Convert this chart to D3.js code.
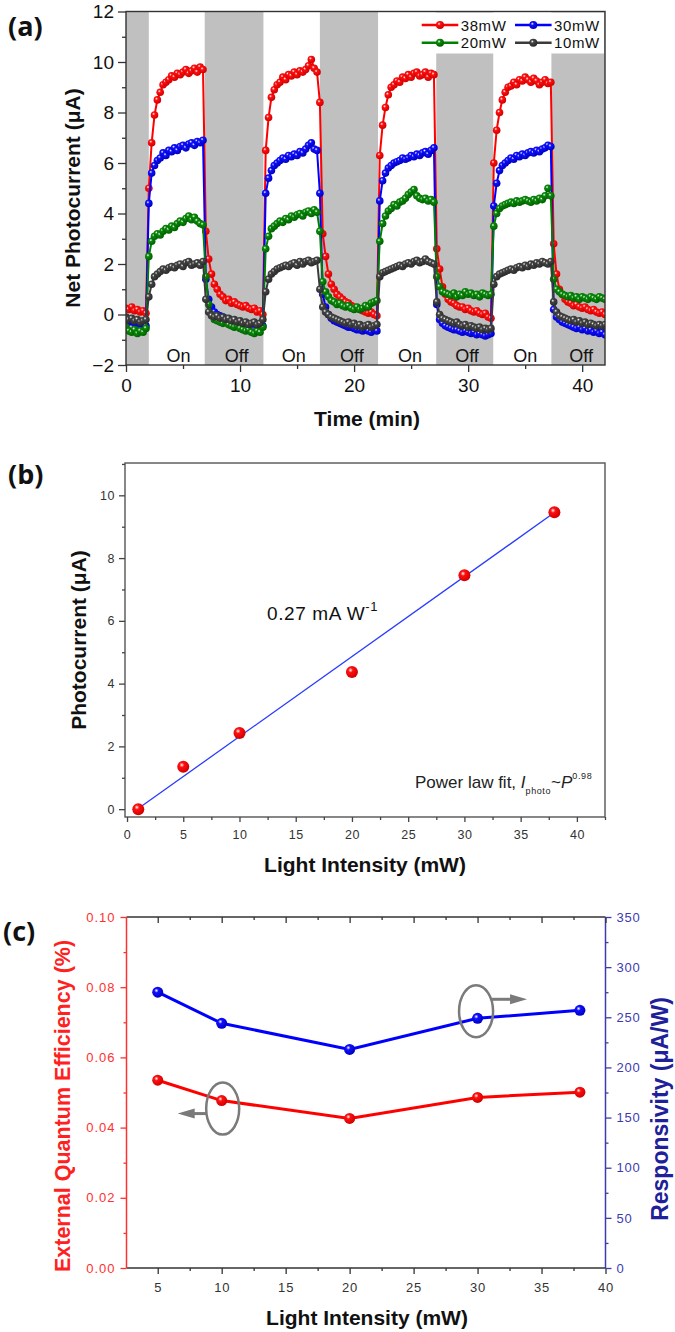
<!DOCTYPE html>
<html><head><meta charset="utf-8">
<script src="https://cdn.jsdelivr.net/npm/d3@7"></script>
<style>
body{margin:0;background:#fff;}
svg text{font-family:"Liberation Sans",Arial,Helvetica,sans-serif;}
</style>
</head><body>
<svg id="chart" width="675" height="1332"></svg>
<script>
// ---------------- DATA ----------------
// (a) transient photocurrent, sampled every 0.25 min from 0 to 42 min
const timeStep = 0.25;
const seriesNames = ["38mW", "30mW", "20mW", "10mW"];
const seriesColors = ["#ff0000", "#0000ff", "#008000", "#3a3a3a"];
const current38 = [
0.25,0.2,0.3,0.15,0.2,0.1,0.15,0.05,
5.0,
6.8,7.9,8.5,8.8,9.1,9.2,9.3,9.45,9.4,9.55,9.5,9.6,9.7,9.55,9.65,9.75,9.6,9.8,9.7,
3.3,
2.2,1.6,1.2,1.0,0.8,0.7,0.55,0.6,0.45,0.5,0.4,0.35,0.3,0.35,0.25,0.2,0.25,0.1,0.15,
0.0,
6.5,7.8,8.6,8.9,9.1,9.2,9.4,9.3,9.5,9.45,9.6,9.5,9.65,9.6,9.7,9.85,10.1,9.75,9.6,
8.4,
3.2,2.3,1.6,1.2,1.0,0.8,0.7,0.6,0.5,0.45,0.35,0.3,0.25,0.2,0.15,0.1,0.05,0.1,0.0,-0.05,
6.3,7.5,8.2,8.7,9.0,9.1,9.25,9.2,9.4,9.35,9.5,9.4,9.55,9.6,9.45,9.5,9.6,9.4,9.55,9.5,
2.6,1.8,1.1,0.8,0.6,0.5,0.45,0.35,0.3,0.3,0.2,0.25,0.15,0.1,0.15,0.05,0.0,0.05,-0.1,-0.15,
6.0,7.3,8.0,8.5,8.8,9.0,9.05,9.2,9.1,9.3,9.25,9.4,9.3,9.2,9.35,9.25,9.1,9.2,9.3,9.15,9.2,
2.8,1.6,1.0,0.8,0.6,0.5,0.45,0.35,0.4,0.3,0.25,0.3,0.2,0.15,0.2,0.1,0.05,0.1,0.0
];
const current30 = [
-0.2,-0.3,-0.25,-0.35,-0.3,-0.4,-0.35,-0.45,
4.4,
5.6,5.9,6.1,6.2,6.4,6.3,6.5,6.45,6.6,6.5,6.65,6.7,6.6,6.75,6.8,6.7,6.85,6.8,6.9,
1.4,
0.6,0.3,0.1,0.0,-0.05,-0.1,-0.15,-0.2,-0.25,-0.3,-0.3,-0.4,-0.45,-0.5,-0.55,-0.5,-0.6,-0.55,-0.5,
-0.45,
4.8,5.4,5.7,5.9,6.0,6.1,6.2,6.15,6.3,6.25,6.35,6.3,6.45,6.4,6.55,6.7,6.8,6.55,6.5,
4.8,
0.8,0.3,0.0,-0.15,-0.25,-0.3,-0.35,-0.4,-0.45,-0.5,-0.5,-0.55,-0.6,-0.6,-0.65,-0.6,-0.65,-0.7,-0.6,-0.65,
4.5,5.3,5.6,5.8,5.9,6.0,6.05,6.1,6.2,6.15,6.2,6.3,6.25,6.35,6.3,6.4,6.45,6.35,6.5,6.6,
0.4,-0.2,-0.35,-0.45,-0.5,-0.55,-0.6,-0.6,-0.65,-0.7,-0.65,-0.7,-0.75,-0.7,-0.8,-0.75,-0.8,-0.85,-0.8,-0.75,
4.3,5.2,5.7,5.9,6.0,6.1,6.2,6.15,6.3,6.25,6.35,6.3,6.4,6.45,6.4,6.5,6.45,6.55,6.6,6.7,6.65,
0.2,-0.1,-0.2,-0.3,-0.35,-0.4,-0.45,-0.5,-0.55,-0.5,-0.6,-0.55,-0.65,-0.6,-0.7,-0.65,-0.75,-0.7,-0.8
];
const current20 = [
-0.5,-0.65,-0.7,-0.6,-0.75,-0.65,-0.7,-0.55,
2.3,
2.9,3.1,3.2,3.15,3.3,3.4,3.35,3.5,3.45,3.6,3.7,3.65,3.8,3.9,3.75,3.85,3.7,3.6,3.55,
1.5,
0.4,0.0,-0.2,-0.25,-0.3,-0.35,-0.3,-0.4,-0.45,-0.5,-0.45,-0.55,-0.6,-0.65,-0.6,-0.7,-0.75,-0.65,-0.7,
-0.5,
2.6,3.1,3.4,3.5,3.6,3.7,3.65,3.8,3.75,3.9,3.85,3.95,4.0,3.9,4.05,4.1,4.0,4.15,4.05,
3.3,
1.3,0.9,0.7,0.55,0.5,0.4,0.45,0.35,0.3,0.35,0.25,0.2,0.3,0.2,0.25,0.35,0.3,0.45,0.5,0.55,
2.9,3.6,3.9,4.1,4.2,4.35,4.3,4.45,4.5,4.6,4.75,4.85,4.95,4.7,4.6,4.55,4.6,4.5,4.55,4.45,
1.5,1.1,0.9,0.85,0.8,0.75,0.85,0.7,0.8,0.75,0.9,0.8,0.85,0.75,0.8,0.7,0.85,0.8,0.75,0.8,
3.5,4.0,4.2,4.3,4.35,4.4,4.45,4.4,4.5,4.45,4.5,4.55,4.5,4.45,4.55,4.5,4.6,4.55,4.7,5.0,4.7,
1.4,1.0,0.9,0.8,0.75,0.7,0.75,0.65,0.7,0.6,0.7,0.65,0.6,0.7,0.65,0.6,0.7,0.65,0.6
];
const current10 = [
-0.1,-0.2,-0.15,-0.25,-0.2,-0.3,-0.25,-0.2,
0.7,
1.2,1.5,1.6,1.7,1.8,1.75,1.85,1.9,1.85,1.95,2.0,1.9,2.05,2.1,1.95,2.0,2.05,1.95,2.1,
0.6,
0.1,-0.05,-0.1,-0.05,-0.15,-0.1,-0.2,-0.15,-0.25,-0.2,-0.3,-0.25,-0.35,-0.3,-0.4,-0.35,-0.3,-0.4,-0.35,
-0.2,
0.9,1.4,1.6,1.7,1.8,1.85,1.9,1.95,1.9,2.0,2.05,1.95,2.1,2.0,2.1,2.15,2.05,2.1,2.15,
1.0,
0.3,0.1,0.0,-0.1,-0.15,-0.2,-0.25,-0.3,-0.35,-0.3,-0.4,-0.35,-0.45,-0.4,-0.5,-0.45,-0.4,-0.5,-0.45,-0.4,
1.5,1.65,1.7,1.75,1.8,1.85,1.9,1.95,1.9,2.0,2.05,2.0,2.1,2.15,2.05,2.1,2.2,2.1,2.05,2.0,
0.5,0.0,-0.15,-0.2,-0.25,-0.3,-0.35,-0.3,-0.4,-0.45,-0.4,-0.5,-0.45,-0.5,-0.55,-0.5,-0.6,-0.55,-0.6,-0.55,
1.2,1.5,1.6,1.65,1.7,1.75,1.8,1.75,1.85,1.9,1.85,1.95,1.9,2.0,1.95,2.05,2.0,2.1,2.05,2.0,2.1,
0.5,0.1,-0.05,-0.1,-0.15,-0.2,-0.25,-0.2,-0.3,-0.25,-0.35,-0.3,-0.4,-0.35,-0.4,-0.45,-0.4,-0.45,-0.4
];
const offWindowStart = [0, 6.9, 17.0, 27.2, 37.3];
const offWindowEnd   = [2, 12.05, 22.1, 32.2, 42];
const onLabelTimes  = [4.6, 14.7, 24.9, 35.0];
const offLabelTimes = [9.7, 19.8, 29.9, 39.9];
const timeTicks = [0, 10, 20, 30, 40];
const currentTicks = [-2, 0, 2, 4, 6, 8, 10, 12];

// (b) photocurrent vs light intensity
const intensityB = [1, 5, 10, 20, 30, 38];
const photocurrentB = [0.0, 1.35, 2.43, 4.37, 7.45, 9.46];
const fitIntensity = [1, 38];
const fitCurrent = [0.02, 9.45];
const intensityTicksB = [0, 5, 10, 15, 20, 25, 30, 35, 40];
const photoTicksB = [0, 2, 4, 6, 8, 10];

// (c) EQE and responsivity
const intensityC = [5, 10, 20, 30, 38];
const eqeC = [0.0535, 0.0477, 0.0426, 0.0486, 0.0501];
const respC = [275, 244, 218, 249, 257];
const intensityTicksC = [5, 10, 15, 20, 25, 30, 35, 40];
const eqeTicks = [0, 0.02, 0.04, 0.06, 0.08, 0.10];
const respTicks = [0, 50, 100, 150, 200, 250, 300, 350];

// ---------------- DRAW ----------------
const FONT = '"Liberation Sans",Arial,Helvetica,sans-serif';
const svg = d3.select("#chart");
const defs = svg.append("defs");
function sphere(id, c, dark) {
  const g = defs.append("radialGradient").attr("id", id)
    .attr("cx", "38%").attr("cy", "35%").attr("r", "65%");
  g.append("stop").attr("offset", "0%").attr("stop-color", "#ffffff");
  g.append("stop").attr("offset", "30%").attr("stop-color", c);
  g.append("stop").attr("offset", "100%").attr("stop-color", dark);
}
sphere("gRed", "#ff1010", "#d00000");
sphere("gBlue", "#1010ff", "#0000c0");
sphere("gGreen", "#0a8a0a", "#006000");
sphere("gGray", "#444444", "#2a2a2a");
const gradIds = ["gRed", "gBlue", "gGreen", "gGray"];

function styleAxis(g, lineColor, fontSize, textColor, spacing) {
  g.select(".domain").remove();
  g.selectAll(".tick line").attr("stroke", lineColor).attr("stroke-width", 1.3);
  g.selectAll(".tick text").attr("fill", textColor)
    .style("font-family", FONT).style("font-size", fontSize + "px")
    .style("letter-spacing", (spacing || 0) + "px");
}

// ===== Panel (a) =====
const xA = d3.scaleLinear().domain([0, 42]).range([126, 605]);
const yA = d3.scaleLinear().domain([-2, 12]).range([365, 11.5]);
const gA = svg.append("g");
defs.append("clipPath").attr("id", "clipA").append("rect")
  .attr("x", xA(0)).attr("y", yA(12)).attr("width", xA(42) - xA(0)).attr("height", yA(-2) - yA(12));

gA.selectAll("rect.off").data(offWindowStart).join("rect").attr("class", "off")
  .attr("x", (d) => xA(d)).attr("y", yA(12))
  .attr("width", (d, i) => xA(offWindowEnd[i]) - xA(d))
  .attr("height", yA(-2) - yA(12)).attr("fill", "#c0c0c0");

const dataA = [current38, current30, current20, current10];
const plotA = gA.append("g").attr("clip-path", "url(#clipA)");
const lineA = d3.line().x((d, i) => xA(i * timeStep)).y((d) => yA(d));
dataA.forEach((arr, k) => {
  const g = plotA.append("g");
  g.append("path").datum(arr).attr("d", lineA).attr("fill", "none")
    .attr("stroke", seriesColors[k]).attr("stroke-width", 2);
  g.selectAll("circle").data(arr).join("circle")
    .attr("cx", (d, i) => xA(i * timeStep)).attr("cy", (d) => yA(d))
    .attr("r", 3.8).attr("fill", `url(#${gradIds[k]})`);
});

// legend
const legA = gA.append("g");
legA.append("rect").attr("x", 414).attr("y", 12.5).attr("width", 190).attr("height", 41).attr("fill", "#fff");
const legPos = [[421.7, 25], [515, 25], [421.7, 42.7], [515, 42.7]];
seriesNames.forEach((name, k) => {
  const [lx, ly] = legPos[k];
  legA.append("line").attr("x1", lx).attr("x2", lx + 36.6).attr("y1", ly).attr("y2", ly)
    .attr("stroke", seriesColors[k]).attr("stroke-width", 2.5);
  legA.append("circle").attr("cx", lx + 18.3).attr("cy", ly).attr("r", 4).attr("fill", `url(#${gradIds[k]})`);
  legA.append("text").attr("x", lx + 39).attr("y", ly + 5.5).text(name)
    .style("font-size", "15px").style("letter-spacing", "0.6px").attr("fill", "#111");
});

// On / Off labels
gA.selectAll("text.on").data(onLabelTimes).join("text").attr("class", "on")
  .attr("x", (d) => xA(d)).attr("y", 361.5).attr("text-anchor", "middle")
  .style("font-size", "18px").attr("fill", "#111").text("On");
gA.selectAll("text.offl").data(offLabelTimes).join("text").attr("class", "offl")
  .attr("x", (d) => xA(d)).attr("y", 361.5).attr("text-anchor", "middle")
  .style("font-size", "18px").attr("fill", "#111").text("Off");

// frame
gA.append("rect").attr("x", xA(0)).attr("y", yA(12)).attr("width", xA(42) - xA(0))
  .attr("height", yA(-2) - yA(12)).attr("fill", "none").attr("stroke", "#333").attr("stroke-width", 1.4);
// axes
const axAxMinor = gA.append("g").attr("transform", `translate(0,${yA(-2)})`)
  .call(d3.axisBottom(xA).tickValues(timeTicks.slice(0, -1).map((d) => d + 5)).tickSize(4).tickFormat(""));
styleAxis(axAxMinor, "#333", 18, "#111");
const axAx = gA.append("g").attr("transform", `translate(0,${yA(-2)})`)
  .call(d3.axisBottom(xA).tickValues(timeTicks).tickSize(7).tickPadding(7).tickFormat(d3.format("d")));
styleAxis(axAx, "#333", 19, "#111");
const ayAMinor = gA.append("g").attr("transform", `translate(${xA(0)},0)`)
  .call(d3.axisLeft(yA).tickValues(currentTicks.slice(0, -1).map((d) => d + 1)).tickSize(4).tickFormat(""));
styleAxis(ayAMinor, "#333", 18, "#111");
const ayA = gA.append("g").attr("transform", `translate(${xA(0)},0)`)
  .call(d3.axisLeft(yA).tickValues(currentTicks).tickSize(8).tickPadding(4).tickFormat(d3.format("d")));
styleAxis(ayA, "#333", 19, "#111");

gA.append("text").attr("x", 367).attr("y", 426).attr("text-anchor", "middle")
  .style("font-size", "21px").style("font-weight", "bold").attr("fill", "#111").text("Time (min)");
gA.append("text").attr("transform", "translate(80,198) rotate(-90)").attr("text-anchor", "middle")
  .style("font-size", "21px").style("font-weight", "bold").attr("fill", "#111").text("Net Photocurrent (μA)");

// ===== Panel (b) =====
const xB = d3.scaleLinear().domain([-0.18, 42.5]).range([125, 605]);
const yB = d3.scaleLinear().domain([-0.25, 11.03]).range([817, 463]);
const gB = svg.append("g");
gB.append("rect").attr("x", xB.range()[0]).attr("y", yB.range()[1])
  .attr("width", xB.range()[1] - xB.range()[0]).attr("height", yB.range()[0] - yB.range()[1])
  .attr("fill", "none").attr("stroke", "#555").attr("stroke-width", 1.4);
const bxMinor = gB.append("g").attr("transform", `translate(0,${yB.range()[0]})`)
  .call(d3.axisBottom(xB).tickValues(intensityTicksB.map((d) => d + 2.5)).tickSize(3).tickFormat(""));
styleAxis(bxMinor, "#444", 12, "#333");
const bx = gB.append("g").attr("transform", `translate(0,${yB.range()[0]})`)
  .call(d3.axisBottom(xB).tickValues(intensityTicksB).tickSize(5).tickPadding(8).tickFormat(d3.format("d")));
styleAxis(bx, "#444", 12.5, "#333", 0.5);
const byMinor = gB.append("g").attr("transform", `translate(${xB.range()[0]},0)`)
  .call(d3.axisLeft(yB).tickValues(photoTicksB.map((d) => d + 1)).tickSize(3).tickFormat(""));
styleAxis(byMinor, "#444", 12, "#333");
const by = gB.append("g").attr("transform", `translate(${xB.range()[0]},0)`)
  .call(d3.axisLeft(yB).tickValues(photoTicksB).tickSize(6).tickPadding(4).tickFormat(d3.format("d")));
styleAxis(by, "#444", 12.5, "#333", 0.5);

gB.append("path").datum(fitIntensity.map((d, i) => [d, fitCurrent[i]]))
  .attr("d", d3.line().x((d) => xB(d[0])).y((d) => yB(d[1])))
  .attr("stroke", "#2a3cff").attr("stroke-width", 1.3).attr("fill", "none");
gB.selectAll("circle").data(intensityB).join("circle")
  .attr("cx", (d) => xB(d)).attr("cy", (d, i) => yB(photocurrentB[i])).attr("r", 6)
  .attr("fill", "url(#gRed)");

const t1 = gB.append("text").attr("x", 267).attr("y", 620).style("font-size", "19px")
  .style("letter-spacing", "0.6px").attr("fill", "#111");
t1.append("tspan").text("0.27 mA W");
t1.append("tspan").attr("dy", -9).style("font-size", "13px").text("-1");

const t2 = gB.append("text").attr("x", 415).attr("y", 788).style("font-size", "17px").attr("fill", "#222");
t2.append("tspan").text("Power law fit, ");
t2.append("tspan").style("font-style", "italic").text("I");
t2.append("tspan").attr("dy", 6).style("font-size", "9px").style("letter-spacing", "0.6px").text("photo");
t2.append("tspan").attr("dy", -6).text("~");
t2.append("tspan").style("font-style", "italic").text("P");
t2.append("tspan").attr("dy", -9).style("font-size", "9px").style("letter-spacing", "0.6px").text("0.98");

gB.append("text").attr("x", 365).attr("y", 872).attr("text-anchor", "middle")
  .style("font-size", "21px").style("font-weight", "bold").attr("fill", "#111").text("Light Intensity (mW)");
gB.append("text").attr("transform", "translate(86,640) rotate(-90)").attr("text-anchor", "middle")
  .style("font-size", "21px").style("font-weight", "bold").attr("fill", "#111").text("Photocurrent (μA)");

// ===== Panel (c) =====
const xC = d3.scaleLinear().domain([2.56, 40]).range([126.5, 605.5]);
const yCL = d3.scaleLinear().domain([0, 0.10]).range([1268, 917]);
const yCR = d3.scaleLinear().domain([0, 350]).range([1268, 917]);
const gC = svg.append("g");
const redAx = "#ff3030", blueAx = "#3c3cb0";

gC.append("line").attr("x1", xC(2.56)).attr("x2", xC(40)).attr("y1", 917).attr("y2", 917).attr("stroke", "#333").attr("stroke-width", 1.4);
gC.append("line").attr("x1", xC(2.56)).attr("x2", xC(40)).attr("y1", 1268).attr("y2", 1268).attr("stroke", "#333").attr("stroke-width", 1.4);
gC.append("line").attr("x1", xC(2.56)).attr("x2", xC(2.56)).attr("y1", 917).attr("y2", 1268).attr("stroke", redAx).attr("stroke-width", 1.5);
gC.append("line").attr("x1", xC(40)).attr("x2", xC(40)).attr("y1", 917).attr("y2", 1268).attr("stroke", blueAx).attr("stroke-width", 1.5);

const minorC = intensityTicksC.slice(0, -1).map((d) => d + 2.5);
const cxMinor = gC.append("g").attr("transform", "translate(0,1268)")
  .call(d3.axisBottom(xC).tickValues(minorC).tickSize(3).tickFormat(""));
styleAxis(cxMinor, "#333", 12, "#333");
const cx = gC.append("g").attr("transform", "translate(0,1268)")
  .call(d3.axisBottom(xC).tickValues(intensityTicksC).tickSize(6).tickPadding(9).tickFormat(d3.format("d")));
styleAxis(cx, "#333", 13, "#333", 0.8);
const ctMinor = gC.append("g").attr("transform", "translate(0,917)")
  .call(d3.axisTop(xC).tickValues(minorC).tickSize(-3).tickFormat(""));
styleAxis(ctMinor, "#333", 12, "#333");
const ct = gC.append("g").attr("transform", "translate(0,917)")
  .call(d3.axisTop(xC).tickValues(intensityTicksC).tickSize(-6).tickFormat(""));
styleAxis(ct, "#333", 12, "#333");

const clMinor = gC.append("g").attr("transform", `translate(${xC(2.56)},0)`)
  .call(d3.axisLeft(yCL).tickValues(eqeTicks.slice(0, -1).map((d) => d + 0.01)).tickSize(3).tickFormat(""));
styleAxis(clMinor, redAx, 12, redAx);
const cl = gC.append("g").attr("transform", `translate(${xC(2.56)},0)`)
  .call(d3.axisLeft(yCL).tickValues(eqeTicks).tickSize(6).tickPadding(5).tickFormat(d3.format(".2f")));
styleAxis(cl, redAx, 13, redAx, 1);
const crMinor = gC.append("g").attr("transform", `translate(${xC(40)},0)`)
  .call(d3.axisRight(yCR).tickValues(respTicks.slice(0, -1).map((d) => d + 25)).tickSize(3).tickFormat(""));
styleAxis(crMinor, blueAx, 12, blueAx);
const cr = gC.append("g").attr("transform", `translate(${xC(40)},0)`)
  .call(d3.axisRight(yCR).tickValues(respTicks).tickSize(6).tickPadding(5).tickFormat(d3.format("d")));
styleAxis(cr, blueAx, 13, blueAx, 0.8);

gC.append("path").datum(intensityC)
  .attr("d", d3.line().x((d) => xC(d)).y((d, i) => yCR(respC[i])))
  .attr("fill", "none").attr("stroke", "#0000ff").attr("stroke-width", 3);
gC.append("path").datum(intensityC)
  .attr("d", d3.line().x((d) => xC(d)).y((d, i) => yCL(eqeC[i])))
  .attr("fill", "none").attr("stroke", "#ff0000").attr("stroke-width", 3);
gC.selectAll("circle.b").data(intensityC).join("circle").attr("class", "b")
  .attr("cx", (d) => xC(d)).attr("cy", (d, i) => yCR(respC[i])).attr("r", 5.5).attr("fill", "url(#gBlue)");
gC.selectAll("circle.r").data(intensityC).join("circle").attr("class", "r")
  .attr("cx", (d) => xC(d)).attr("cy", (d, i) => yCL(eqeC[i])).attr("r", 5.5).attr("fill", "url(#gRed)");

const annGray = "#7a7a7a";
function arrow(x1, x2, y) {
  const dir = Math.sign(x2 - x1);
  gC.append("line").attr("x1", x1).attr("x2", x2 - dir * 14).attr("y1", y).attr("y2", y)
    .attr("stroke", annGray).attr("stroke-width", 3);
  gC.append("path").attr("d", `M${x2},${y} L${x2 - dir * 17},${y - 5} L${x2 - dir * 17},${y + 5} Z`).attr("fill", annGray);
}
const e1x = xC(intensityC[1]) + 1, e1y = yCL(eqeC[1]) + 8;
gC.append("ellipse").attr("cx", e1x).attr("cy", e1y).attr("rx", 16.5).attr("ry", 26)
  .attr("fill", "none").attr("stroke", annGray).attr("stroke-width", 2.5);
arrow(e1x - 16.5, e1x - 45, e1y + 5);
const e2x = xC(intensityC[3]) - 1.5, e2y = yCR(respC[3]) - 7;
gC.append("ellipse").attr("cx", e2x).attr("cy", e2y).attr("rx", 17).attr("ry", 26)
  .attr("fill", "none").attr("stroke", annGray).attr("stroke-width", 2.5);
arrow(e2x + 15, e2x + 51, e2y - 12);

gC.append("text").attr("x", 367).attr("y", 1325).attr("text-anchor", "middle")
  .style("font-size", "21px").style("font-weight", "bold").attr("fill", "#111").text("Light Intensity (mW)");
gC.append("text").attr("transform", "translate(70,1106) rotate(-90)").attr("text-anchor", "middle")
  .style("font-size", "21.5px").style("font-weight", "bold").attr("fill", "#ff2020").text("External Quantum Efficiency (%)");
gC.append("text").attr("transform", "translate(668,1109) rotate(-90)").attr("text-anchor", "middle")
  .style("font-size", "23px").style("font-weight", "bold").attr("fill", "#20209a").text("Responsivity (μA/W)");

[["(a)", 8, 35.5], ["(b)", 8, 484], ["(c)", 3, 941]].forEach(([t, x, y]) => {
  svg.append("text").attr("x", x).attr("y", y).text(t)
    .style("font-family", '"Open Sans","Liberation Sans",Arial,sans-serif')
    .style("font-size", "27px").style("font-weight", "bold").attr("fill", "#111");
});
</script>
</body></html>
